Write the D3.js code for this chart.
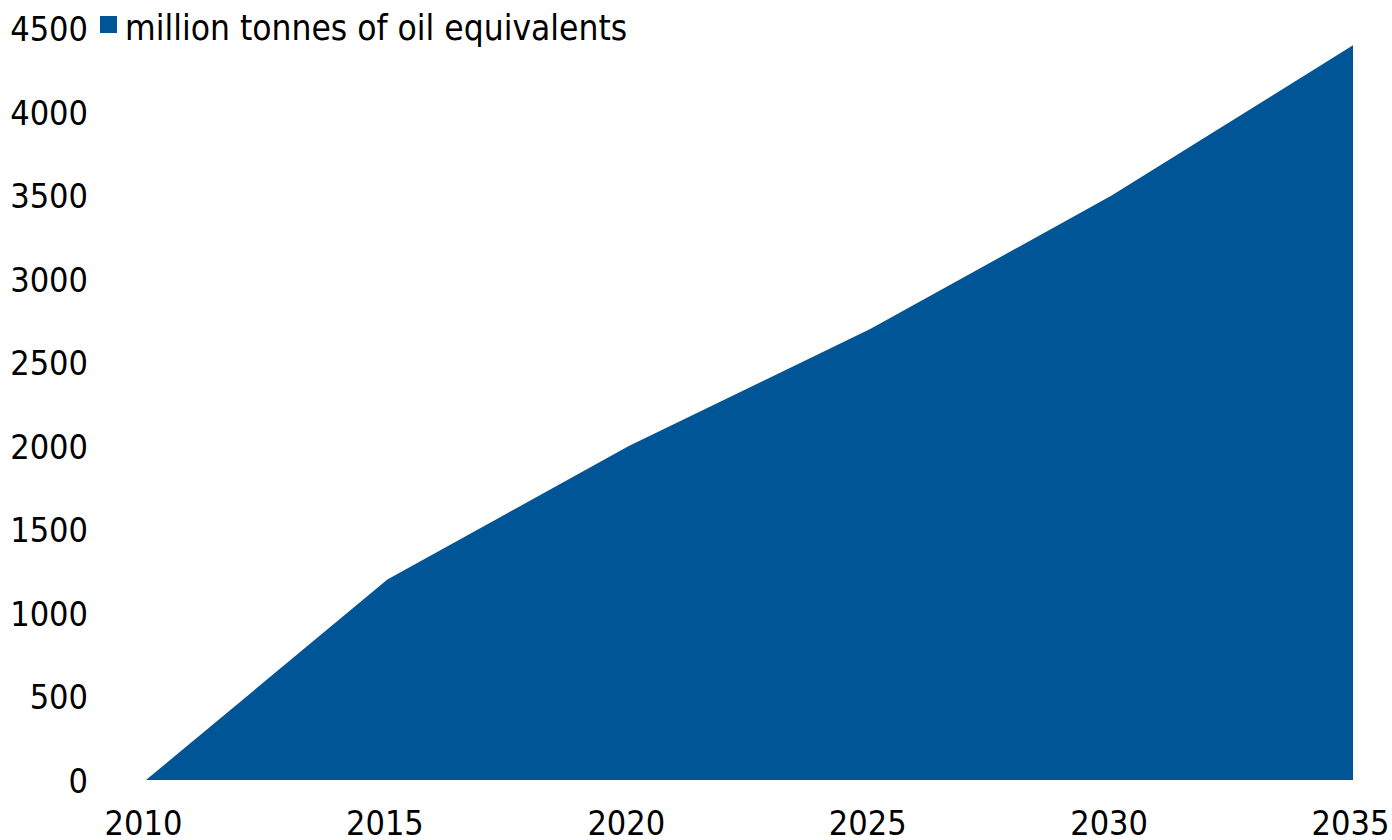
<!DOCTYPE html>
<html><head><meta charset="utf-8">
<script src="https://cdn.jsdelivr.net/npm/d3@7"></script>
<style>
body{margin:0;background:#fff;}
svg text{font-family:"Liberation Sans Narrow","DejaVu Sans Condensed","Liberation Sans",sans-serif;font-stretch:condensed;fill:#000;}
</style></head><body>
<svg id="c" width="1392" height="840"></svg>
<script>
const years = [2010, 2015, 2020, 2025, 2030, 2035];
const values = [0, 1200, 2000, 2700, 3500, 4400];
const yTicks = [0, 500, 1000, 1500, 2000, 2500, 3000, 3500, 4000, 4500];
const seriesName = "million tonnes of oil equivalents";
const color = "#005596";

const svg = d3.select("#c");
const x = d3.scaleLinear().domain([2010, 2035]).range([146, 1353]);
const y = d3.scaleLinear().domain([0, 4500]).range([780, 28.5]);
const data = years.map((yr, i) => ({yr, v: values[i]}));

const area = d3.area().x(d => x(d.yr)).y0(y(0)).y1(d => y(d.v));
svg.append("path").datum(data).attr("d", area).attr("fill", color);

const fs = 34;
const yAxis = svg.append("g").attr("transform", "translate(88,0)")
  .call(d3.axisLeft(y).tickValues(yTicks).tickSize(0).tickPadding(0).tickFormat(d3.format("d")));
yAxis.select(".domain").remove();
yAxis.attr("font-family", null).attr("font-size", null);
yAxis.selectAll("text").attr("font-size", fs).attr("dy", "0.36em");

const xAxis = svg.append("g").attr("transform", "translate(-3,806)")
  .call(d3.axisBottom(x).tickValues(years).tickSize(0).tickPadding(0).tickFormat(d3.format("d")));
xAxis.select(".domain").remove();
xAxis.attr("font-family", null).attr("font-size", null);
xAxis.selectAll("text").attr("font-size", fs).attr("dy", "0.85em");

const lg = svg.append("g");
lg.append("rect").attr("x", 100).attr("y", 16).attr("width", 17).attr("height", 17).attr("fill", color);
lg.append("text").attr("x", 125).attr("y", 27).attr("dy", "0.36em").attr("font-size", 35).text(seriesName);
</script></body></html>
